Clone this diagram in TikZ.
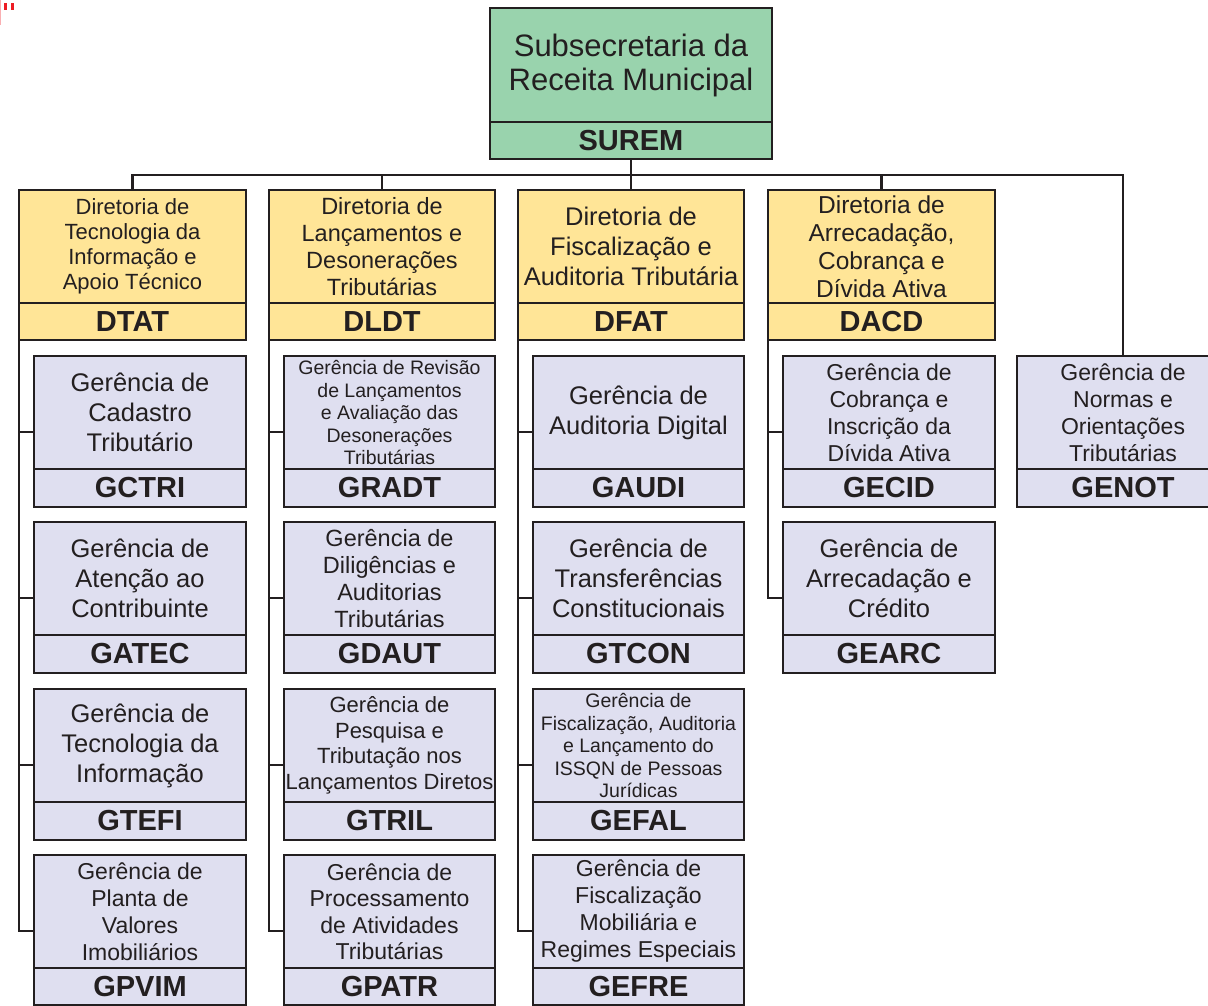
\documentclass[tikz,border=0pt]{standalone}
\usepackage{fontspec}
\setmainfont{Liberation Sans}
\usetikzlibrary{calc}
\definecolor{ink}{HTML}{231F20}
\definecolor{sgreen}{HTML}{99D3AD}
\definecolor{dyellow}{HTML}{FFE597}
\definecolor{glav}{HTML}{DFDFF0}
\definecolor{mred}{HTML}{ED1C24}
\newcommand\fs[2]{\fontsize{#1}{#2}\selectfont}
% #1 code/name, #2 fill, #3 left, #4 top, #5 right, #6 divider, #7 bottom, #8 font, #9 title
\newcommand\orgbox[9]{%
  \node[cell, fill=#2, minimum width={#5-#3}, minimum height={#6-#4}, font=#8]
    (#1-t) at ({(#3+#5)/2},{(#4+#6)/2}) {#9};
  \node[cell, fill=#2, minimum width={#5-#3}, minimum height={#7-#6}, font=\fs{29}{32}\bfseries]
    (#1) at ({(#3+#5)/2},{(#6+#7)/2}) {#1};
}
\tikzset{
  cell/.style={draw=ink, line width=2.8pt, inner sep=0pt, outer sep=0pt, align=center, text=ink},
  conn/.style={draw=ink, line width=2.4pt},
}
\begin{document}
\begin{tikzpicture}[x=1pt, y=-1pt]
\useasboundingbox (0,0) rectangle (1208,1006);
\fill[white] (0,0) rectangle (1208,1006);
\clip (0,0) rectangle (1208,1006);
% stray red mark
\fill[mred!35] (0,0) rectangle (1,25);
\fill[mred] (3.5,3) rectangle (6.5,10);
\fill[mred] (10.5,3) rectangle (13.5,10);

% top
\orgbox{SUREM}{sgreen}{490}{8}{772}{122}{159}{\fs{31}{34}}{Subsecretaria da\\Receita Municipal}

% directorates
\orgbox{DTAT}{dyellow}{19}{190}{246}{303}{340}{\fs{22}{25}}{Diretoria de\\Tecnologia da\\Informação e\\Apoio Técnico}
\orgbox{DLDT}{dyellow}{269}{190}{495}{303}{340}{\fs{23.5}{27}}{Diretoria de\\Lançamentos e\\Desonerações\\Tributárias}
\orgbox{DFAT}{dyellow}{518}{190}{744}{303}{340}{\fs{25.5}{30}}{Diretoria de\\Fiscalização e\\Auditoria Tributária}
\orgbox{DACD}{dyellow}{768}{190}{995}{303}{340}{\fs{24.5}{28}}{Diretoria de\\Arrecadação,\\Cobrança e\\Dívida Ativa}

% column 1
\orgbox{GCTRI}{glav}{34}{356}{246}{469}{507}{\fs{25.5}{30}}{Gerência de\\Cadastro\\Tributário}
\orgbox{GATEC}{glav}{34}{522}{246}{635}{673}{\fs{25.5}{30}}{Gerência de\\Atenção ao\\Contribuinte}
\orgbox{GTEFI}{glav}{34}{689}{246}{802}{840}{\fs{25.5}{30}}{Gerência de\\Tecnologia da\\Informação}
\orgbox{GPVIM}{glav}{34}{855}{246}{968}{1005}{\fs{23}{27}}{Gerência de\\Planta de\\Valores\\Imobiliários}
% column 2
\orgbox{GRADT}{glav}{284}{356}{495}{469}{507}{\fs{19.5}{22.5}}{Gerência de Revisão\\de Lançamentos\\e Avaliação das\\Desonerações\\Tributárias}
\orgbox{GDAUT}{glav}{284}{522}{495}{635}{673}{\fs{23.5}{27}}{Gerência de\\Diligências e\\Auditorias\\Tributárias}
\orgbox{GTRIL}{glav}{284}{689}{495}{802}{840}{\fs{22}{25.5}}{Gerência de\\Pesquisa e\\Tributação nos\\Lançamentos Diretos}
\orgbox{GPATR}{glav}{284}{855}{495}{968}{1005}{\fs{23}{26.5}}{Gerência de\\Processamento\\de Atividades\\Tributárias}
% column 3
\orgbox{GAUDI}{glav}{533}{356}{744}{469}{507}{\fs{25.5}{30}}{Gerência de\\Auditoria Digital}
\orgbox{GTCON}{glav}{533}{522}{744}{635}{673}{\fs{25.5}{30}}{Gerência de\\Transferências\\Constitucionais}
\orgbox{GEFAL}{glav}{533}{689}{744}{802}{840}{\fs{19.5}{22.5}}{Gerência de\\Fiscalização, Auditoria\\e Lançamento do\\ISSQN de Pessoas\\Jurídicas}
\orgbox{GEFRE}{glav}{533}{855}{744}{968}{1005}{\fs{23}{27}}{Gerência de\\Fiscalização\\Mobiliária e\\Regimes Especiais}
% column 4
\orgbox{GECID}{glav}{783}{356}{995}{469}{507}{\fs{23}{27}}{Gerência de\\Cobrança e\\Inscrição da\\Dívida Ativa}
\orgbox{GEARC}{glav}{783}{522}{995}{635}{673}{\fs{25.5}{30}}{Gerência de\\Arrecadação e\\Crédito}
% column 5
\orgbox{GENOT}{glav}{1017}{356}{1229}{469}{507}{\fs{23}{27}}{Gerência de\\Normas e\\Orientações\\Tributárias}

% bus
\coordinate (bus) at (631,175);
\draw[conn] (DTAT-t.north) |- (bus) -| (GENOT-t.north);
\draw[conn] (SUREM.south) -- (DFAT-t.north);
\draw[conn] (DLDT-t.north) -- (DLDT-t.north |- bus);
\draw[conn] (DACD-t.north) -- (DACD-t.north |- bus);

% tick points
\foreach \g in {GCTRI,GATEC,GTEFI,GPVIM,GRADT,GDAUT,GTRIL,GPATR,GAUDI,GTCON,GEFAL,GEFRE,GECID,GEARC}
  \coordinate (t\g) at ($(\g-t.west)+(0,19.5)$);

% spines
\draw[conn] (DTAT.south west) |- (tGPVIM);
\foreach \g in {GCTRI,GATEC,GTEFI} \draw[conn] (t\g) -- (DTAT.south west |- t\g);
\draw[conn] (DLDT.south west) |- (tGPATR);
\foreach \g in {GRADT,GDAUT,GTRIL} \draw[conn] (t\g) -- (DLDT.south west |- t\g);
\draw[conn] (DFAT.south west) |- (tGEFRE);
\foreach \g in {GAUDI,GTCON,GEFAL} \draw[conn] (t\g) -- (DFAT.south west |- t\g);
\draw[conn] (DACD.south west) |- (tGEARC);
\draw[conn] (tGECID) -- (DACD.south west |- tGECID);
\end{tikzpicture}
\end{document}
